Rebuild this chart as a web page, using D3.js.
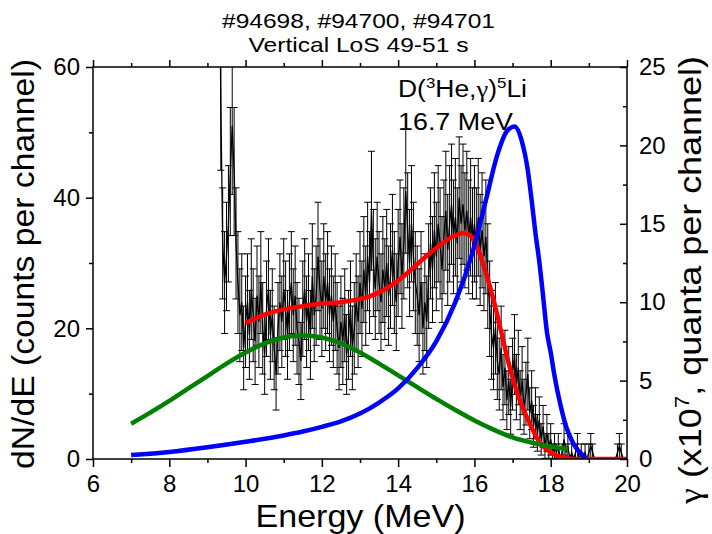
<!DOCTYPE html>
<html><head><meta charset="utf-8">
<script src="https://cdn.jsdelivr.net/npm/d3@7/dist/d3.min.js"></script>
<style>
body{margin:0;background:#fff}
svg{display:block}
text{font-family:"Liberation Sans",Arial,sans-serif;fill:#000}
</style>
</head><body>
<svg id="chart" width="712" height="534"></svg>
<script>
// ---- measured spectrum (counts per channel) ----
const energy = [
 9.30,9.35,9.40,9.45,9.50,9.55,9.60,9.65,9.70,9.75,9.80,9.85,9.90,9.95,
 10.00,10.05,10.10,10.15,10.20,10.25,10.30,10.35,10.40,10.45,10.50,10.55,10.60,10.65,10.70,10.75,10.80,10.85,10.90,10.95,
 11.00,11.05,11.10,11.15,11.20,11.25,11.30,11.35,11.40,11.45,11.50,11.55,11.60,11.65,11.70,11.75,11.80,11.85,11.90,11.95,
 12.00,12.05,12.10,12.15,12.20,12.25,12.30,12.35,12.40,12.45,12.50,12.55,12.60,12.65,12.70,12.75,12.80,12.85,12.90,12.95,
 13.00,13.05,13.10,13.15,13.20,13.25,13.30,13.35,13.40,13.45,13.50,13.55,13.60,13.65,13.70,13.75,13.80,13.85,13.90,13.95,
 14.00,14.05,14.10,14.15,14.20,14.25,14.30,14.35,14.40,14.45,14.50,14.55,14.60,14.65,14.70,14.75,14.80,14.85,14.90,14.95,
 15.00,15.05,15.10,15.15,15.20,15.25,15.30,15.35,15.40,15.45,15.50,15.55,15.60,15.65,15.70,15.75,15.80,15.85,15.90,15.95,
 16.00,16.05,16.10,16.15,16.20,16.25,16.30,16.35,16.40,16.45,16.50,16.55,16.60,16.65,16.70,16.75,16.80,16.85,16.90,16.95,
 17.00,17.05,17.10,17.15,17.20,17.25,17.30,17.35,17.40,17.45,17.50,17.55,17.60,17.65,17.70,17.75,17.80,17.85,17.90,17.95,
 18.00,18.05,18.10,18.15,18.20,18.25,18.30,18.35,18.40,18.45,18.50,18.55,18.60,18.65,18.70,18.75,18.80,18.85,18.90,18.95,
 19.00,19.05,19.10,19.15,19.20,19.25,19.30,19.35,19.40,19.45,19.50,19.55,19.60,19.65,19.70,19.75,19.80,19.85,19.90,19.95,
 20.00];
const counts = [
 90,55,33,27,31,36,44,51,44,33,27,22,24,17,
 21,24,19,26,22,18,25,21,27,20,16,23,26,19,22,17,13,20,24,21,
 26,23,19,24,27,22,25,20,18,15,23,26,21,24,19,28,22,25,31,26,
 23,28,24,27,22,25,21,24,20,17,21,18,22,16,19,23,17,20,24,21,
 27,23,29,25,31,27,38,30,26,31,27,24,29,26,30,25,28,32,27,24,
 30,34,28,33,41,35,30,36,31,27,25,22,27,20,24,21,28,33,29,35,
 31,36,33,29,34,38,32,36,39,34,37,33,40,36,39,35,38,34,37,33,
 36,33,37,32,35,31,34,28,23,19,17,20,15,13,17,11,14,9,12,8,
 13,16,11,14,9,12,8,10,13,7,9,5,7,4,6,3,5,2,4,2,
 3,1,2,1,2,0,1,3,1,2,0,1,0,1,2,0,1,0,1,0,
 1,2,1,0,0,0,0,0,0,0,0,0,0,0,0,1,2,1,0,0,
 0];
const errors = [
 13.5,10.8,8.5,7.8,8.3,8.9,9.8,10.5,9.8,8.5,7.8,7.1,7.4,6.4,
 7.0,7.4,6.8,7.7,7.1,6.6,7.6,7.0,7.8,7.0,6.1,7.3,7.7,6.8,7.1,6.4,5.5,7.0,7.4,7.0,
 7.7,7.3,6.8,7.4,7.8,7.1,7.6,7.0,6.6,5.9,7.3,7.7,7.0,7.4,6.8,8.0,7.1,7.6,8.3,7.7,
 7.3,8.0,7.4,7.8,7.1,7.6,7.0,7.4,7.0,6.4,7.0,6.6,7.1,6.1,6.8,7.3,6.4,7.0,7.4,7.0,
 7.8,7.3,8.1,7.6,8.3,7.8,9.1,8.2,7.7,8.3,7.8,7.4,8.1,7.7,8.2,7.6,8.0,8.5,7.8,7.4,
 8.2,8.7,8.0,8.5,9.5,8.8,8.2,8.9,8.3,7.8,7.6,7.1,7.8,7.0,7.4,7.0,8.0,8.5,8.1,8.8,
 8.3,8.9,8.5,8.1,8.7,9.1,8.5,8.9,9.2,8.7,9.0,8.5,9.3,8.9,9.2,8.8,9.1,8.7,9.0,8.5,
 8.9,8.5,9.0,8.5,8.8,8.3,8.7,8.0,7.3,6.8,6.4,7.0,5.9,5.5,6.4,5.0,5.7,4.5,5.2,4.2,
 5.5,6.1,5.0,5.7,4.5,5.2,4.2,4.8,5.5,3.9,4.5,3.2,3.9,2.8,3.5,2.4,3.2,1.9,2.8,1.9,
 2.4,1.3,1.9,1.3,1.9,0,1.3,2.4,1.3,1.9,0,1.3,0,1.3,1.9,0,1.3,0,1.3,0,
 1.3,1.9,1.3,0,0,0,0,0,0,0,0,0,0,0,0,1.3,1.9,1.3,0,0,
 0];

// ---- total fit (red, left axis) ----
const fitE = [10.0,10.5,11.0,11.5,12.0,12.5,13.0,13.25,13.5,13.75,14.0,14.25,14.5,14.75,15.0,15.25,15.5,15.7,15.9,16.1,16.3,16.5,16.7,16.9,17.1,17.3,17.5,17.7,17.9,18.1,18.3,18.5,18.7,19.0,20.0];
const fitY = [20.8,22.1,22.9,23.4,23.8,24.0,24.5,24.9,25.5,26.3,27.3,28.5,29.8,31.1,32.3,33.4,34.2,34.6,34.2,32.0,28.5,24.4,19.5,14.6,10.5,7.4,4.8,2.6,1.4,0.7,0.3,0.05,0,0,0];

// ---- background component (green, left axis) ----
const bgE = [7.0,7.5,8.0,8.5,9.0,9.5,10.0,10.5,11.0,11.5,12.0,12.5,13.0,13.5,14.0,14.5,15.0,15.5,16.0,16.5,17.0,17.5,18.0,18.45];
const bgY = [5.4,7.1,8.9,10.8,12.7,14.6,16.3,17.7,18.6,18.9,18.6,17.7,16.3,14.6,12.8,11.0,9.2,7.5,5.9,4.5,3.3,2.5,1.9,1.5];

// ---- gamma response (blue, right axis, x10^7 quanta per channel) ----
const gammaE = [7.0,8.0,9.0,10.0,11.0,11.5,12.0,12.5,13.0,13.5,14.0,14.5,15.0,15.5,16.0,16.3,16.6,16.85,17.05,17.25,17.4,17.5,17.6,17.7,17.8,17.9,18.0,18.1,18.25,18.4,18.55,18.7,18.85,18.9];
const gammaY = [0.25,0.45,0.75,1.1,1.5,1.75,2.05,2.4,2.9,3.6,4.5,5.8,7.5,10.0,13.6,16.5,19.4,20.9,21.2,20.2,18.4,16.5,14.4,12.6,10.4,8.1,6.8,5.3,3.5,2.1,1.2,0.6,0.2,0.0];

// ---- ticks ----
const xTicks = [6,8,10,12,14,16,18,20];
const xMinor = [7,9,11,13,15,17,19];
const yLeftTicks = [0,20,40,60];
const yLeftMinor = [10,30,50];
const yRightTicks = [0,5,10,15,20,25];
const yRightMinor = [2.5,7.5,12.5,17.5,22.5];

const svg = d3.select('#chart');
const L=93, R=627, T=67, B=459;
const x = d3.scaleLinear().domain([6,20]).range([L,R]);
const yL = d3.scaleLinear().domain([0,60]).range([B,T]);
const yR = d3.scaleLinear().domain([0,25]).range([B,T]);

svg.append('defs').append('clipPath').attr('id','clip')
  .append('rect').attr('x',L).attr('y',T).attr('width',R-L).attr('height',B-T);
const plot = svg.append('g').attr('clip-path','url(#clip)');

const pts = energy.map((e,i)=>({e, v:counts[i], s:errors[i]}));

// error bars
plot.append('g').attr('fill','none').attr('stroke','#000').attr('stroke-width',1)
  .selectAll('path').data(pts.filter(d=>d.s>0)).join('path')
  .attr('d', d=>{
    const cx=x(d.e), y1=yL(d.v+d.s), y0=yL(d.v-d.s), w=3.5;
    return `M${cx},${y0}V${y1}M${cx-w},${y1}H${cx+w}M${cx-w},${y0}H${cx+w}`;
  });
// data line
plot.append('path').datum(pts).attr('fill','none').attr('stroke','#000').attr('stroke-width',1.3)
  .attr('d', d3.line().x(d=>x(d.e)).y(d=>yL(d.v)));

const curve = (xs, ys, scale, color) => {
  plot.append('path').datum(xs.map((e,i)=>[e,ys[i]]))
    .attr('fill','none').attr('stroke',color).attr('stroke-width',4.5)
    .attr('stroke-linejoin','round').attr('stroke-linecap','butt')
    .attr('d', d3.line().curve(d3.curveMonotoneX).x(d=>x(d[0])).y(d=>scale(d[1])));
};
curve(fitE, fitY, yL, '#ff0000');
curve(bgE, bgY, yL, '#008000');
curve(gammaE, gammaY, yR, '#0000ff');

// axes
const axisFont = g => g.selectAll('text').style('font-size','24px').style('font-family','"Liberation Sans",Arial,sans-serif');
const noDomain = g => g.select('.domain').remove();

svg.append('g').attr('transform',`translate(0,${B})`)
  .call(d3.axisBottom(x).tickValues(xTicks).tickSize(8).tickPadding(8).tickFormat(d3.format('d')))
  .call(noDomain).call(axisFont);
svg.append('g').attr('transform',`translate(0,${B})`)
  .call(d3.axisBottom(x).tickValues(xMinor).tickSize(4).tickFormat('')).call(noDomain);
svg.append('g').attr('transform',`translate(0,${T})`)
  .call(d3.axisTop(x).tickValues(xTicks).tickSize(7).tickFormat('')).call(noDomain);
svg.append('g').attr('transform',`translate(0,${T})`)
  .call(d3.axisTop(x).tickValues(xMinor).tickSize(4).tickFormat('')).call(noDomain);

svg.append('g').attr('transform',`translate(${L},0)`)
  .call(d3.axisLeft(yL).tickValues(yLeftTicks).tickSize(7).tickPadding(6).tickFormat(d3.format('d')))
  .call(noDomain).call(axisFont);
svg.append('g').attr('transform',`translate(${L},0)`)
  .call(d3.axisLeft(yL).tickValues(yLeftMinor).tickSize(4).tickFormat('')).call(noDomain);

svg.append('g').attr('transform',`translate(${R},0)`)
  .call(d3.axisRight(yR).tickValues(yRightTicks).tickSize(-7).tickPadding(12).tickFormat(d3.format('d')))
  .call(noDomain).call(axisFont);
svg.append('g').attr('transform',`translate(${R},0)`)
  .call(d3.axisRight(yR).tickValues(yRightMinor).tickSize(-4).tickFormat('')).call(noDomain);

svg.selectAll('.tick line').attr('stroke','#000').attr('stroke-width',1.5);

// frame
svg.append('rect').attr('x',L).attr('y',T).attr('width',R-L).attr('height',B-T)
  .attr('fill','none').attr('stroke','#000').attr('stroke-width',1.5);

// titles
svg.append('text').attr('x',358.5).attr('y',28).attr('text-anchor','middle').style('font-size','21px')
  .attr('textLength',273).attr('lengthAdjust','spacingAndGlyphs').text('#94698, #94700, #94701');
svg.append('text').attr('x',358.5).attr('y',52).attr('text-anchor','middle').style('font-size','21px')
  .attr('textLength',220).attr('lengthAdjust','spacingAndGlyphs').text('Vertical LoS 49-51 s');

svg.append('text').attr('x',360.5).attr('y',527).attr('text-anchor','middle').style('font-size','32px')
  .attr('textLength',210).attr('lengthAdjust','spacingAndGlyphs').text('Energy (MeV)');

svg.append('text').attr('transform','translate(34,264) rotate(-90)').attr('text-anchor','middle')
  .style('font-size','32px').attr('textLength',410).attr('lengthAdjust','spacingAndGlyphs')
  .text('dN/dE (counts per channel)');

const rt = svg.append('text').attr('transform','translate(701,280) rotate(-90)').attr('text-anchor','middle')
  .style('font-size','32px').attr('textLength',448).attr('lengthAdjust','spacingAndGlyphs');
rt.append('tspan').style('font-family','"Liberation Serif",serif').text('γ');
rt.append('tspan').text(' (x10');
rt.append('tspan').attr('dy',-12).style('font-size','20px').text('7');
rt.append('tspan').attr('dy',12).text(', quanta per channel)');

// annotation
const an = svg.append('text').attr('x',398).attr('y',97).style('font-size','23.5px')
  .attr('textLength',129).attr('lengthAdjust','spacingAndGlyphs');
an.append('tspan').text('D(');
an.append('tspan').attr('dy',-9).style('font-size','15px').text('3');
an.append('tspan').attr('dy',9).text('He,');
an.append('tspan').style('font-family','"Liberation Serif",serif').text('γ');
an.append('tspan').text(')');
an.append('tspan').attr('dy',-9).style('font-size','15px').text('5');
an.append('tspan').attr('dy',9).text('Li');
svg.append('text').attr('x',398).attr('y',130).style('font-size','23.5px')
  .attr('textLength',115).attr('lengthAdjust','spacingAndGlyphs').text('16.7 MeV');
</script>
</body></html>
